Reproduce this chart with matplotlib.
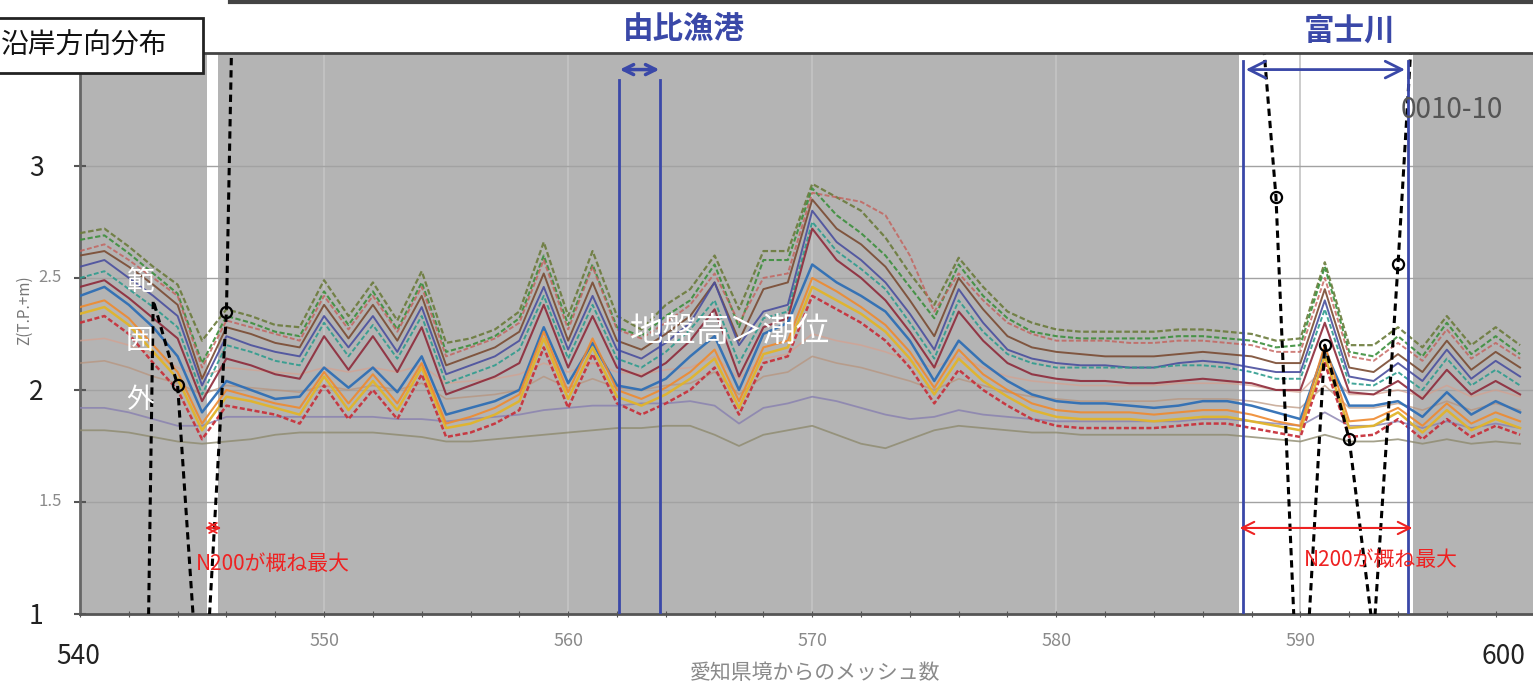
"""Alongshore ground-height profiles around Yui fishing port and the Fuji river."""

import matplotlib

matplotlib.use("Agg")
import matplotlib.pyplot as plt
from matplotlib.patches import Rectangle
import numpy as np

plt.rcParams["font.family"] = ["Noto Sans CJK JP", "DejaVu Sans"]

# mesh numbers counted from the Aichi border
mesh = np.arange(540, 600)

# ground height profiles Z (T.P.+m), one value per mesh 540..599
olive_dashed = [2.70, 2.72, 2.64, 2.55, 2.47, 2.22, 2.36, 2.33, 2.29, 2.28,
                2.49, 2.33, 2.48, 2.31, 2.53, 2.21, 2.23, 2.27, 2.35, 2.66,
                2.33, 2.62, 2.33, 2.27, 2.38, 2.45, 2.60, 2.36, 2.62, 2.62,
                2.92, 2.86, 2.80, 2.68, 2.52, 2.38, 2.59, 2.46, 2.35, 2.30,
                2.27, 2.26, 2.26, 2.26, 2.26, 2.27, 2.27, 2.26, 2.25, 2.22,
                2.23, 2.57, 2.20, 2.20, 2.28, 2.19, 2.33, 2.20, 2.28, 2.20]
green_dashed = [2.67, 2.69, 2.61, 2.52, 2.43, 2.12, 2.33, 2.30, 2.26, 2.24,
                2.44, 2.29, 2.44, 2.27, 2.48, 2.17, 2.20, 2.24, 2.32, 2.60,
                2.29, 2.56, 2.28, 2.24, 2.33, 2.40, 2.56, 2.28, 2.58, 2.58,
                2.90, 2.78, 2.70, 2.60, 2.46, 2.32, 2.56, 2.42, 2.32, 2.26,
                2.24, 2.23, 2.23, 2.23, 2.23, 2.24, 2.24, 2.23, 2.22, 2.19,
                2.20, 2.55, 2.17, 2.15, 2.24, 2.15, 2.30, 2.16, 2.24, 2.16]
pink_dashed = [2.62, 2.65, 2.58, 2.50, 2.42, 2.10, 2.31, 2.28, 2.25, 2.22,
               2.42, 2.27, 2.42, 2.26, 2.46, 2.15, 2.19, 2.23, 2.30, 2.58,
               2.27, 2.55, 2.27, 2.23, 2.30, 2.38, 2.52, 2.30, 2.50, 2.52,
               2.88, 2.86, 2.84, 2.78, 2.60, 2.35, 2.52, 2.40, 2.30, 2.25,
               2.22, 2.22, 2.22, 2.21, 2.21, 2.22, 2.22, 2.21, 2.20, 2.17,
               2.17, 2.50, 2.15, 2.13, 2.21, 2.13, 2.27, 2.14, 2.21, 2.14]
brown_solid = [2.60, 2.62, 2.55, 2.47, 2.38, 2.05, 2.28, 2.25, 2.21, 2.19,
               2.38, 2.23, 2.38, 2.22, 2.42, 2.11, 2.15, 2.19, 2.26, 2.52,
               2.22, 2.48, 2.22, 2.18, 2.25, 2.33, 2.48, 2.22, 2.45, 2.48,
               2.85, 2.72, 2.65, 2.55, 2.40, 2.24, 2.50, 2.36, 2.24, 2.19,
               2.17, 2.16, 2.15, 2.15, 2.15, 2.16, 2.17, 2.16, 2.15, 2.12,
               2.12, 2.45, 2.10, 2.08, 2.16, 2.08, 2.22, 2.09, 2.17, 2.10]
navy_solid = [2.55, 2.58, 2.50, 2.42, 2.33, 2.02, 2.24, 2.20, 2.17, 2.15,
              2.33, 2.19, 2.33, 2.17, 2.37, 2.07, 2.11, 2.15, 2.22, 2.46,
              2.18, 2.42, 2.18, 2.14, 2.21, 2.30, 2.48, 2.20, 2.35, 2.38,
              2.80, 2.66, 2.58, 2.48, 2.34, 2.18, 2.45, 2.30, 2.18, 2.14,
              2.12, 2.11, 2.11, 2.10, 2.10, 2.12, 2.13, 2.12, 2.10, 2.08,
              2.08, 2.40, 2.06, 2.04, 2.12, 2.04, 2.18, 2.05, 2.13, 2.06]
teal_dashed = [2.50, 2.53, 2.45, 2.37, 2.28, 1.98, 2.20, 2.17, 2.13, 2.11,
               2.30, 2.15, 2.29, 2.14, 2.33, 2.03, 2.07, 2.11, 2.18, 2.42,
               2.14, 2.38, 2.14, 2.10, 2.17, 2.27, 2.40, 2.12, 2.32, 2.35,
               2.75, 2.62, 2.54, 2.45, 2.30, 2.14, 2.40, 2.26, 2.16, 2.12,
               2.10, 2.10, 2.10, 2.10, 2.10, 2.11, 2.11, 2.10, 2.08, 2.05,
               2.05, 2.36, 2.03, 2.02, 2.08, 2.00, 2.14, 2.02, 2.09, 2.02]
maroon_solid = [2.46, 2.49, 2.41, 2.32, 2.23, 1.95, 2.14, 2.11, 2.07, 2.05,
                2.24, 2.09, 2.24, 2.08, 2.28, 1.98, 2.02, 2.06, 2.12, 2.38,
                2.10, 2.33, 2.10, 2.06, 2.12, 2.22, 2.36, 2.06, 2.28, 2.32,
                2.72, 2.58, 2.50, 2.40, 2.26, 2.10, 2.35, 2.22, 2.12, 2.07,
                2.05, 2.04, 2.04, 2.03, 2.03, 2.04, 2.05, 2.04, 2.03, 2.00,
                2.00, 2.30, 1.99, 1.98, 2.04, 1.96, 2.09, 1.98, 2.04, 1.98]
blue_solid = [2.42, 2.46, 2.38, 2.28, 2.15, 1.90, 2.04, 2.00, 1.96, 1.97,
              2.10, 2.01, 2.10, 1.99, 2.15, 1.89, 1.92, 1.95, 2.00, 2.28,
              2.03, 2.21, 2.02, 2.00, 2.05, 2.15, 2.24, 2.00, 2.25, 2.30,
              2.56, 2.48, 2.42, 2.35, 2.22, 2.04, 2.22, 2.12, 2.04, 1.98,
              1.95, 1.94, 1.94, 1.93, 1.92, 1.93, 1.95, 1.95, 1.93, 1.90,
              1.87, 2.18, 1.93, 1.93, 1.95, 1.88, 1.99, 1.89, 1.95, 1.90]
orange_solid = [2.37, 2.40, 2.32, 2.20, 2.08, 1.85, 2.00, 1.97, 1.94, 1.92,
                2.08, 1.94, 2.07, 1.94, 2.12, 1.85, 1.88, 1.92, 1.98, 2.26,
                1.99, 2.23, 2.00, 1.96, 2.01, 2.08, 2.18, 1.95, 2.19, 2.22,
                2.50, 2.44, 2.37, 2.29, 2.17, 2.01, 2.18, 2.07, 2.00, 1.94,
                1.91, 1.90, 1.90, 1.90, 1.89, 1.90, 1.91, 1.91, 1.89, 1.86,
                1.84, 2.20, 1.86, 1.87, 1.92, 1.84, 1.94, 1.85, 1.90, 1.86]
gold_solid = [2.34, 2.37, 2.29, 2.17, 2.05, 1.82, 1.97, 1.95, 1.92, 1.89,
              2.06, 1.91, 2.04, 1.91, 2.10, 1.83, 1.85, 1.89, 1.95, 2.23,
              1.96, 2.19, 1.97, 1.93, 1.98, 2.05, 2.14, 1.92, 2.16, 2.19,
              2.46, 2.40, 2.34, 2.26, 2.14, 1.98, 2.14, 2.04, 1.97, 1.91,
              1.88, 1.87, 1.87, 1.87, 1.86, 1.87, 1.88, 1.88, 1.86, 1.84,
              1.82, 2.15, 1.83, 1.84, 1.90, 1.81, 1.91, 1.82, 1.87, 1.83]
red_dashed = [2.30, 2.33, 2.25, 2.12, 2.00, 1.78, 1.93, 1.91, 1.89, 1.85,
              2.02, 1.87, 2.00, 1.87, 2.07, 1.79, 1.81, 1.85, 1.91, 2.19,
              1.92, 2.16, 1.94, 1.89, 1.94, 2.00, 2.10, 1.89, 2.12, 2.15,
              2.42, 2.36, 2.30, 2.22, 2.10, 1.94, 2.09, 2.00, 1.93, 1.87,
              1.84, 1.83, 1.83, 1.83, 1.83, 1.84, 1.85, 1.85, 1.83, 1.81,
              1.79, 2.12, 1.79, 1.80, 1.87, 1.78, 1.87, 1.79, 1.84, 1.80]
salmon_faint = [2.22, 2.23, 2.20, 2.16, 2.10, 2.06, 2.10, 2.09, 2.08, 2.07,
                2.10, 2.08, 2.10, 2.08, 2.11, 2.03, 2.04, 2.05, 2.07, 2.12,
                2.08, 2.12, 2.08, 2.07, 2.09, 2.10, 2.15, 2.05, 2.14, 2.16,
                2.25, 2.22, 2.20, 2.17, 2.13, 2.10, 2.15, 2.10, 2.06, 2.04,
                2.03, 2.02, 2.02, 2.02, 2.02, 2.03, 2.03, 2.03, 2.02, 2.00,
                1.99, 2.10, 1.98, 1.98, 2.00, 1.97, 2.02, 1.97, 2.00, 1.97]
tan_faint = [2.12, 2.13, 2.10, 2.06, 2.03, 1.98, 2.02, 2.01, 2.00, 1.99,
             2.02, 2.00, 2.02, 2.00, 2.03, 1.96, 1.97, 1.98, 2.00, 2.06,
             2.01, 2.05, 2.01, 2.00, 2.02, 2.03, 2.08, 1.98, 2.06, 2.08,
             2.15, 2.12, 2.10, 2.07, 2.04, 2.00, 2.05, 2.02, 1.99, 1.97,
             1.96, 1.95, 1.95, 1.95, 1.95, 1.96, 1.96, 1.96, 1.95, 1.93,
             1.92, 2.02, 1.92, 1.92, 1.94, 1.91, 1.95, 1.91, 1.94, 1.91]
purple_faint = [1.92, 1.92, 1.90, 1.87, 1.84, 1.84, 1.88, 1.88, 1.88, 1.88,
                1.88, 1.88, 1.88, 1.87, 1.87, 1.86, 1.87, 1.88, 1.89, 1.91,
                1.92, 1.93, 1.93, 1.94, 1.94, 1.95, 1.93, 1.85, 1.92, 1.94,
                1.97, 1.95, 1.92, 1.89, 1.87, 1.88, 1.91, 1.89, 1.88, 1.87,
                1.86, 1.86, 1.86, 1.86, 1.86, 1.86, 1.87, 1.87, 1.86, 1.85,
                1.84, 1.90, 1.84, 1.84, 1.86, 1.83, 1.86, 1.83, 1.85, 1.83]
gray_faint = [1.82, 1.82, 1.81, 1.79, 1.77, 1.76, 1.77, 1.78, 1.80, 1.81,
              1.81, 1.81, 1.81, 1.80, 1.79, 1.77, 1.77, 1.78, 1.79, 1.80,
              1.81, 1.82, 1.83, 1.83, 1.84, 1.84, 1.80, 1.75, 1.80, 1.82,
              1.84, 1.80, 1.76, 1.74, 1.78, 1.82, 1.84, 1.83, 1.82, 1.81,
              1.81, 1.80, 1.80, 1.80, 1.80, 1.80, 1.80, 1.80, 1.79, 1.78,
              1.77, 1.80, 1.77, 1.77, 1.78, 1.76, 1.78, 1.76, 1.77, 1.76]

# N200 line (black dashed with circles), only where it crosses the view
n200_left_mesh = [542, 543, 544, 545, 546, 547]
n200_left_z = [-5.0, 2.40, 2.02, 0.40, 2.35, 8.0]
n200_right_mesh = [588, 589, 590, 591, 592, 593, 594, 595]
n200_right_z = [4.2, 2.86, 0.30, 2.20, 1.78, 0.90, 2.56, 4.4]

# annotated ranges (mesh units)
yui_port = (562.1, 563.75)
fuji_river = (587.65, 594.4)
white_bands = [(545.2, 545.65), (587.5, 594.6)]
n200_max_left = (545.0, 545.9)
n200_max_right = (587.4, 594.7)

# (values, colour, linestyle, linewidth, alpha)
faint_series = [
    (gray_faint, "#8e8a6e", "-", 1.3, 0.8),
    (purple_faint, "#8880b0", "-", 1.3, 0.8),
    (tan_faint, "#b8927a", "-", 1.2, 0.7),
    (salmon_faint, "#d6a08e", "-", 1.2, 0.7),
]
main_series = [
    (olive_dashed, "#6b7b3b", (0, (2.5, 1.2)), 1.6, 0.9),
    (green_dashed, "#3c8f3c", (0, (2.5, 1.2)), 1.5, 0.9),
    (pink_dashed, "#c4605a", (0, (2.5, 1.2)), 1.4, 0.8),
    (brown_solid, "#7a4b32", "-", 1.4, 0.9),
    (navy_solid, "#4a4f9e", "-", 1.4, 0.9),
    (teal_dashed, "#2e9c8e", (0, (2.5, 1.2)), 1.4, 0.9),
    (maroon_solid, "#8e2a3a", "-", 1.5, 0.9),
    (blue_solid, "#2f6fb5", "-", 1.8, 0.95),
    (gold_solid, "#e2b42a", "-", 1.8, 0.95),
    (orange_solid, "#ef8a2e", "-", 1.5, 0.9),
    (red_dashed, "#c8323c", (0, (2, 1)), 1.8, 0.95),
]

GRAY_BG = "#b4b4b4"
BLUE = "#3a48a8"
RED = "#ee2222"

fig = plt.figure(figsize=(15.33, 6.87), dpi=100)
W, H = 1533, 687
ax = fig.add_axes([80 / W, 73 / H, (W - 80) / W, 561 / H])
ax.set_xlim(540, 599.53)
ax.set_ylim(1, 3.504)
ax.set_facecolor("white")

# grey background with white gaps
edges = [540] + [v for band in white_bands for v in band] + [600]
for lo, hi in zip(edges[0::2], edges[1::2]):
    ax.axvspan(lo, hi, color=GRAY_BG, lw=0, zorder=0)

for gx in [550, 560, 570, 580, 590]:
    ax.axvline(gx, color="#c4c4c4", lw=1.2, zorder=1)
for gy in [1.5, 2, 2.5, 3]:
    ax.axhline(gy, color="#a2a2a2", lw=1.0, zorder=1)

for values, color, ls, lw, alpha in faint_series + main_series:
    ax.plot(mesh, values, color=color, ls=ls, lw=lw, alpha=alpha, zorder=3)

# the circle at mesh 543 sits under the "範" label in the original
for xs, zs, marks in [(n200_left_mesh, n200_left_z, [2, 4]),
                      (n200_right_mesh, n200_right_z, None)]:
    ax.plot(xs, zs, color="black", ls=(0, (2.4, 1.6)), lw=2.2, marker="o",
            markevery=marks, ms=8, mfc="none", mec="black", mew=1.6, zorder=5)

# blue port / river markers
for x0 in yui_port:
    ax.plot([x0, x0], [1, 3.385], color=BLUE, lw=2.0, zorder=6)
for x0 in fuji_river:
    ax.plot([x0, x0], [1, 3.47], color=BLUE, lw=2.0, zorder=6)
ax.annotate("", xy=(yui_port[0] - 0.1, 3.43), xytext=(yui_port[1] + 0.1, 3.43),
            arrowprops=dict(arrowstyle="<->", color=BLUE, lw=2.5,
                            mutation_scale=18), zorder=7)
ax.annotate("", xy=(fuji_river[0], 3.43), xytext=(fuji_river[1], 3.43),
            arrowprops=dict(arrowstyle="<->", color=BLUE, lw=2.0,
                            mutation_scale=30), zorder=7)

# red N200 markers
ax.annotate("", xy=(n200_max_left[0], 1.384), xytext=(n200_max_left[1], 1.384),
            arrowprops=dict(arrowstyle="<->", color=RED, lw=1.3,
                            mutation_scale=18), zorder=7)
ax.annotate("", xy=(n200_max_right[0], 1.384), xytext=(n200_max_right[1], 1.384),
            arrowprops=dict(arrowstyle="<->", color=RED, lw=1.5,
                            mutation_scale=22), zorder=7)
ax.text(544.75, 1.225, "N200が概ね最大", color=RED, fontsize=15, va="center", zorder=8)
ax.text(590.15, 1.24, "N200が概ね最大", color=RED, fontsize=15, va="center", zorder=8)

# text annotations
for ch, z in [("範", 2.48), ("囲", 2.22), ("外", 1.955)]:
    ax.text(542.45, z, ch, color="white", fontsize=20, ha="center", va="center", zorder=8)
ax.text(566.65, 2.26, "地盤高＞潮位", color="white", fontsize=24, ha="center",
        va="center", zorder=8)
ax.text(596.2, 3.25, "0010-10", color="#555555", fontsize=20, ha="center",
        va="center", zorder=8)

# axes styling
for side in ["top", "right"]:
    ax.spines[side].set_visible(False)
ax.spines["left"].set_color("#666666")
ax.spines["left"].set_linewidth(2)
ax.spines["bottom"].set_color("#555555")
ax.spines["bottom"].set_linewidth(2)
ax.set_xticks(np.arange(540, 600, 2))
ax.set_xticklabels([])
ax.tick_params(axis="x", length=4, color="#555555", direction="inout")
ax.set_yticks([1, 1.5, 2, 2.5, 3])
ax.set_yticklabels([])
ax.tick_params(axis="y", length=8, color="#555555", direction="inout", width=1.5)

for xv in [550, 560, 570, 580, 590]:
    ax.text(xv, 0.88, str(xv), color="#8a8a8a", fontsize=13, ha="center", va="center")
fig.text(78 / W, 1 - 657 / H, "540", fontsize=19, color="#222222", ha="center", va="center")
fig.text(1503 / W, 1 - 657 / H, "600", fontsize=19, color="#222222", ha="center", va="center")
for yv, lab, big in [(3, "3", True), (2.5, "2.5", False), (2, "2", True),
                     (1.5, "1.5", False), (1, "1", True)]:
    if big:
        ax.text(538.2, yv - 0.01, lab, fontsize=19, color="#222222", ha="center", va="center")
    else:
        ax.text(539.25, yv, lab, fontsize=12, color="#8a8a8a", ha="right", va="center")
fig.text(25 / W, 1 - 310 / H, "Z(T.P.+m)", rotation=90, fontsize=11, color="#777777",
         ha="center", va="center")
fig.text(815 / W, 1 - 673 / H, "愛知県境からのメッシュ数", fontsize=15, color="#8a8a8a",
         ha="center", va="center")

# header area
fig.add_artist(plt.Line2D([80 / W, 1], [1 - 53 / H, 1 - 53 / H], color="#444444", lw=2))
fig.add_artist(plt.Line2D([230 / W, 1], [1 - 1.5 / H, 1 - 1.5 / H], color="#444444", lw=3))
fig.add_artist(Rectangle((-5 / W, 1 - 73 / H), 208 / W, 55 / H, transform=fig.transFigure,
                         facecolor="white", edgecolor="#222222", lw=2, zorder=10))
fig.text(1 / W, 1 - 46 / H, "沿岸方向分布", fontsize=20, color="#111111", ha="left",
         va="center", zorder=11)
fig.text(684 / W, 1 - 30 / H, "由比漁港", fontsize=22, color=BLUE, ha="center",
         va="center", fontweight="bold")
fig.text(1350 / W, 1 - 32 / H, "富士川", fontsize=22, color=BLUE, ha="center",
         va="center", fontweight="bold")

fig.savefig("out.png", dpi=100)
